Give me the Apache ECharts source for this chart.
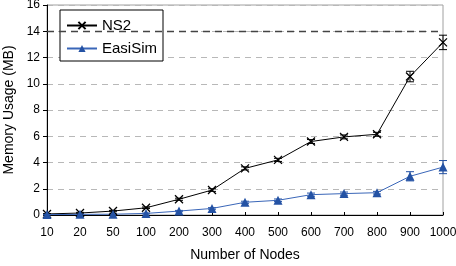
<!DOCTYPE html>
<html>
<head>
<meta charset="utf-8">
<script src="https://cdn.jsdelivr.net/npm/echarts@6/dist/echarts.min.js"></script>
<style>
  html, body { margin: 0; padding: 0; background: #fff; }
  #chart { width: 456px; height: 266px; }
</style>
</head>
<body>
<div id="chart"></div>
<script>
// data
const nodes = ['10', '20', '50', '100', '200', '300', '400', '500', '600', '700', '800', '900', '1000']
const ns2 = [0.08, 0.15, 0.3, 0.55, 1.2, 1.9, 3.55, 4.2, 5.6, 5.95, 6.15, 10.55, 13.15]
const ns2Err = [0.03, 0.05, 0.05, 0.06, 0.08, 0.1, 0.12, 0.12, 0.15, 0.15, 0.15, 0.4, 0.55]
const easiSim = [0.03, 0.05, 0.06, 0.12, 0.3, 0.5, 0.97, 1.12, 1.55, 1.63, 1.7, 2.95, 3.65]
const easiErr = [0.02, 0.02, 0.03, 0.03, 0.05, 0.06, 0.08, 0.1, 0.12, 0.12, 0.1, 0.35, 0.5]
const yTicks = [0, 2, 4, 6, 8, 10, 12, 14, 16]
const refLine = 14

const FONT = 'Liberation Sans'
const BLUE = '#2452a4'

function errData (vals, errs) {
  return vals.map((v, i) => [i, v - errs[i], v + errs[i]])
}

function errRender (color) {
  return function (params, api) {
    const x = api.value(0)
    const lo = api.coord([x, api.value(1)])
    const hi = api.coord([x, api.value(2)])
    const w = 4
    const style = { stroke: color, lineWidth: 1 }
    return {
      type: 'group',
      children: [
        { type: 'line', shape: { x1: lo[0], y1: lo[1], x2: hi[0], y2: hi[1] }, style: style },
        { type: 'line', shape: { x1: lo[0] - w, y1: lo[1], x2: lo[0] + w, y2: lo[1] }, style: style },
        { type: 'line', shape: { x1: hi[0] - w, y1: hi[1], x2: hi[0] + w, y2: hi[1] }, style: style }
      ]
    }
  }
}

let chart = echarts.init(document.getElementById('chart'))
chart.setOption({
  animation: false,
  textStyle: { fontFamily: FONT },
  grid: {
    left: 47,
    right: 13,
    top: 5,
    bottom: 51,
    outerBoundsMode: 'none',
    containLabel: false,
    show: true,
    borderColor: '#a0a0a0',
    borderWidth: 1
  },
  legend: {
    orient: 'vertical',
    left: 60,
    top: 10,
    padding: [8, 6, 5, 6],
    itemGap: 8,
    itemWidth: 30,
    itemHeight: 9,
    backgroundColor: '#fff',
    borderColor: '#000',
    borderWidth: 1,
    borderRadius: 0,
    textStyle: { fontFamily: FONT, fontSize: 15, color: '#000' },
    data: ['NS2', 'EasiSim']
  },
  xAxis: {
    type: 'category',
    data: nodes,
    boundaryGap: false,
    name: 'Number of Nodes',
    nameLocation: 'middle',
    nameGap: 33,
    nameTextStyle: { fontFamily: FONT, fontSize: 14, color: '#000' },
    axisLine: { lineStyle: { color: '#000', width: 1 } },
    axisTick: { show: true, inside: true, length: 3, alignWithLabel: true, lineStyle: { color: '#000' } },
    axisLabel: { fontFamily: FONT, fontSize: 12, color: '#000', margin: 12, interval: 0 },
    splitLine: { show: false }
  },
  yAxis: {
    type: 'value',
    min: yTicks[0],
    max: yTicks[yTicks.length - 1],
    interval: 2,
    name: 'Memory Usage (MB)',
    nameLocation: 'middle',
    nameGap: 29,
    nameTextStyle: { fontFamily: FONT, fontSize: 14, color: '#000' },
    axisLine: { show: true, lineStyle: { color: '#000', width: 1 } },
    axisTick: { show: true, length: 4, lineStyle: { color: '#000' } },
    axisLabel: { fontFamily: FONT, fontSize: 12, color: '#000', margin: 7 },
    splitLine: { show: true, lineStyle: { color: '#b8b8b8', type: [6, 5], width: 1 } }
  },
  series: [
    {
      name: 'NS2',
      type: 'line',
      data: ns2,
      color: '#000',
      symbol: 'path://M0,0L10,10M10,0L0,10',
      symbolSize: 8,
      lineStyle: { color: '#000', width: 1 },
      itemStyle: { color: '#000', borderColor: '#000', borderWidth: 1.3 },
      z: 4,
      markLine: {
        silent: true,
        symbol: ['none', 'none'],
        label: { show: false },
        lineStyle: { color: '#444', type: [7, 5], width: 1.3 },
        data: [{ yAxis: refLine }]
      }
    },
    {
      name: 'EasiSim',
      type: 'line',
      data: easiSim,
      color: BLUE,
      symbol: 'triangle',
      symbolSize: 9,
      lineStyle: { color: '#3a66b8', width: 1 },
      itemStyle: { color: BLUE },
      z: 4
    },
    {
      name: 'NS2 err',
      type: 'custom',
      renderItem: errRender('#000'),
      data: errData(ns2, ns2Err),
      encode: { x: 0, y: [1, 2] },
      z: 3,
      silent: true
    },
    {
      name: 'EasiSim err',
      type: 'custom',
      renderItem: errRender(BLUE),
      data: errData(easiSim, easiErr),
      encode: { x: 0, y: [1, 2] },
      z: 3,
      silent: true
    }
  ]
})
window.addEventListener('resize', () => { chart.resize() })
</script>
</body>
</html>
